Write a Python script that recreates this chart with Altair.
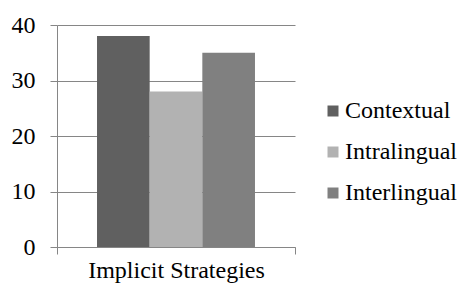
import altair as alt
import pandas as pd

categories = ["Implicit Strategies"]
series = ["Contextual", "Intralingual", "Interlingual"]
values = [38, 28, 35]
colors = ["#606060", "#b2b2b2", "#808080"]

df = pd.DataFrame({
    "category": [categories[0]] * len(series),
    "series": series,
    "value": values,
})

FONT = "Liberation Serif"
GRAY = "#868686"

chart = alt.Chart(df).mark_bar().encode(
    x=alt.X("category:N", title=None,
            scale=alt.Scale(paddingOuter=0, paddingInner=0),
            axis=alt.Axis(labelAngle=0, tickBand="extent", labelFontSize=24,
                          labelFont=FONT, labelColor="black", domainColor=GRAY,
                          tickColor=GRAY, tickSize=7, labelPadding=4, grid=False)),
    xOffset=alt.XOffset("series:N", sort=series,
                        scale=alt.Scale(paddingOuter=0.76, paddingInner=0)),
    y=alt.Y("value:Q", title=None,
            scale=alt.Scale(domain=[0, 40]),
            axis=alt.Axis(values=[0, 10, 20, 30, 40], labelFontSize=24, labelFont=FONT,
                          labelColor="black", domainColor=GRAY, tickColor=GRAY,
                          gridColor=GRAY, tickSize=7, labelPadding=15)),
    color=alt.Color("series:N", sort=series,
                    scale=alt.Scale(domain=series, range=colors),
                    legend=alt.Legend(title=None, orient="none", legendX=264, legendY=74,
                                      symbolType="square", symbolSize=121,
                                      symbolStrokeWidth=0, labelFontSize=24,
                                      labelFont=FONT, labelColor="black",
                                      labelOffset=0, rowPadding=17)),
).properties(
    width=238, height=222,
    autosize=alt.AutoSizeParams(type="none"),
    padding={"left": 49, "top": 17, "right": 166, "bottom": 36},
).configure(font=FONT).configure_view(stroke=None)

chart.save("out.html", embed_options={"renderer": "svg", "actions": False})
